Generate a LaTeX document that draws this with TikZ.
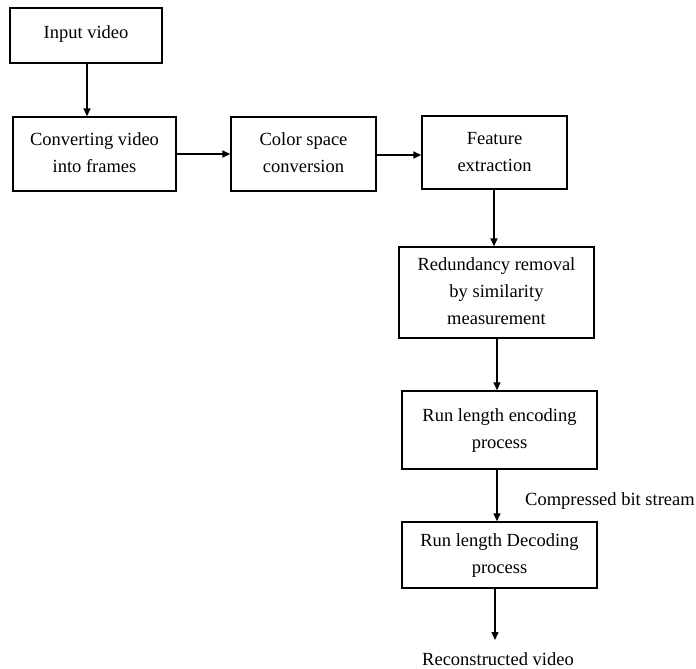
\documentclass[tikz,border=0pt]{standalone}
\usepackage{fontspec}
\setmainfont{Liberation Serif}
\usetikzlibrary{arrows.meta}
\newcommand{\mytb}[2]{\raisebox{#1}{\begin{tabular}{@{}c@{}}#2\end{tabular}}}
\begin{document}
\begin{tikzpicture}[x=1pt,y=-1pt,
  box/.style={draw, line width=1.4pt, align=center, inner sep=0pt,
    font=\fontsize{18.5}{27}\selectfont},
  lbl/.style={inner sep=0pt, font=\fontsize{18.5}{27}\selectfont},
  conn/.style={line width=1.5pt, -{Triangle[length=8pt,width=7pt]}}]
\useasboundingbox (0,0) rectangle (696,669);
\node[box, minimum width=152pt, minimum height=55pt] (in) at (86,35.5) {\raisebox{6pt}{Input video}};
\node[box, minimum width=163pt, minimum height=74pt] (conv) at (94.5,154) {\mytb{2pt}{Converting video\\into frames}};
\node[box, minimum width=145pt, minimum height=74pt] (color) at (303.5,154) {\mytb{2pt}{Color space\\conversion}};
\node[box, minimum width=145pt, minimum height=73pt] (feat) at (494.5,152.5) {\mytb{4pt}{Feature\\extraction}};
\node[box, minimum width=195pt, minimum height=91pt] (red) at (496.5,292.5) {\mytb{0pt}{Redundancy removal\\by similarity\\measurement}};
\node[box, minimum width=195pt, minimum height=78pt] (enc) at (499.5,430) {\mytb{2pt}{Run length encoding\\process}};
\node[box, minimum width=195pt, minimum height=66pt] (dec) at (499.5,555) {\mytb{1pt}{Run length Decoding\\process}};
\node[lbl, anchor=base] (rec) at (498,665) {Reconstructed video};
\node[lbl, anchor=base west] (cbs) at (525,505) {Compressed bit stream};
\coordinate (recend) at (495,640);
\draw[conn] ([xshift=1pt]in.south) -- ([xshift=1pt]in.south |- conv.north);
\draw[conn] (conv.east) -- (conv.east -| color.west);
\draw[conn] ([yshift=-1pt]color.east) -- ([yshift=-1pt]color.east -| feat.west);
\draw[conn] ([xshift=-0.5pt]feat.south) -- ([xshift=-0.5pt]feat.south |- red.north);
\draw[conn] ([xshift=0.5pt]red.south) -- ([xshift=0.5pt]red.south |- enc.north);
\draw[conn] ([xshift=-2.5pt]enc.south) -- ([xshift=-2.5pt]enc.south |- dec.north);
\draw[conn] ([xshift=-4.5pt]dec.south) -- (recend);
\end{tikzpicture}
\end{document}
